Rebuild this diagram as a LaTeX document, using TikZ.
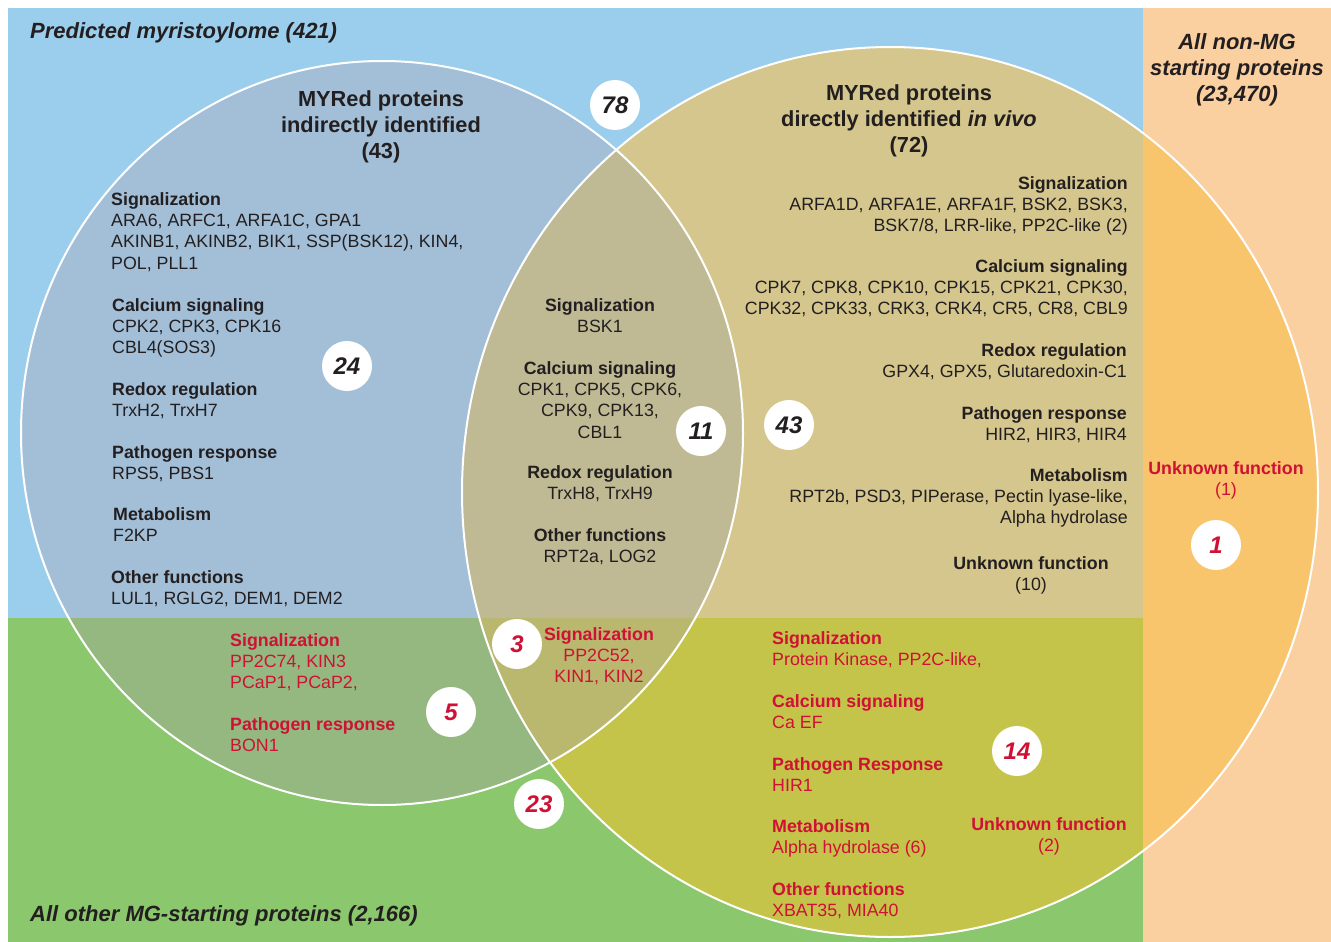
\documentclass[tikz,border=0pt]{standalone}
\usepackage{fontspec}
\setmainfont{Liberation Sans}
\usetikzlibrary{positioning}

\definecolor{predblue}{RGB}{155,206,236}
\definecolor{mggreen}{RGB}{139,199,108}
\definecolor{nonmg}{RGB}{251,208,160}
\definecolor{indblue}{RGB}{163,191,215}
\definecolor{indgreen}{RGB}{148,184,128}
\definecolor{dirkhaki}{RGB}{212,198,140}
\definecolor{dirolive}{RGB}{197,196,74}
\definecolor{dirorange}{RGB}{248,197,108}
\definecolor{bothgray}{RGB}{191,186,148}
\definecolor{bothgreen}{RGB}{186,183,110}
\definecolor{inkblack}{RGB}{35,31,32}
\definecolor{myred}{RGB}{206,17,52}

\newcommand{\grphead}[1]{\textbf{#1}}

\tikzset{
  body/.style={inner sep=0pt, text=inkblack, font=\fontsize{17.8}{21.3}\selectfont},
  grpl/.style={body, align=left, anchor=north west},
  grpc/.style={body, align=center, anchor=north},
  grpr/.style={body, align=right, anchor=north east},
  redgrp/.style={text=myred},
  settitle/.style={inner sep=0pt, align=center, anchor=north, text=inkblack,
    font=\fontsize{21.8}{26}\selectfont\bfseries},
  corner/.style={inner sep=0pt, text=inkblack,
    font=\fontsize{22}{26}\selectfont\bfseries\itshape},
  badge/.style={circle, fill=white, minimum size=50pt, inner sep=0pt, text=inkblack,
    font=\fontsize{24}{24}\selectfont\bfseries\itshape},
  setline/.style={draw=white, line width=2pt}
}

\begin{document}
\begin{tikzpicture}[x=1pt,y=-1pt]
  \useasboundingbox (0,0) rectangle (1331,942);
  % backgrounds
  \fill[white] (0,0) rectangle (1331,942);
  \fill[predblue] (8,8) rectangle (1143,618);
  \fill[mggreen] (8,618) rectangle (1143,942);
  \fill[nonmg] (1143,8) rectangle (1331,942);
  % indirectly identified set
  \begin{scope}
    \clip (382,433) ellipse [x radius=361pt, y radius=372pt];
    \fill[indblue] (8,8) rectangle (1143,618);
    \fill[indgreen] (8,618) rectangle (1143,942);
  \end{scope}
  % directly identified set, and the overlap
  \begin{scope}
    \clip (890,492) ellipse [x radius=428pt, y radius=445pt];
    \fill[dirkhaki] (8,8) rectangle (1143,618);
    \fill[dirolive] (8,618) rectangle (1143,942);
    \fill[dirorange] (1143,8) rectangle (1331,942);
    \clip (382,433) ellipse [x radius=361pt, y radius=372pt];
    \fill[bothgray] (8,8) rectangle (1143,618);
    \fill[bothgreen] (8,618) rectangle (1143,942);
  \end{scope}
  \draw[setline] (382,433) ellipse [x radius=361pt, y radius=372pt];
  \draw[setline] (890,492) ellipse [x radius=428pt, y radius=445pt];

  % corner labels
  \node[corner, anchor=base west] (pred) at (30,39) {Predicted myristoylome (421)};
  \node[corner, align=center, anchor=north] (nonmg) at (1237,33)
    {All non-MG\\starting proteins\\(23,470)};
  \node[corner, anchor=base west] (othermg) at (30,921) {All other MG-starting proteins (2,166)};

  % set titles
  \node[settitle] (indtitle) at (381,91) {MYRed proteins\\indirectly identified\\(43)};
  \node[settitle] (dirtitle) at (909,85) {MYRed proteins\\directly identified \textit{in vivo}\\(72)};

  % indirectly identified only
  \node[grpl] (ind-sig) at (111,192) {\grphead{Signalization}\\ARA6, ARFC1, ARFA1C, GPA1\\AKINB1, AKINB2, BIK1, SSP(BSK12), KIN4,\\POL, PLL1};
  \node[grpl] (ind-ca) at (112,298) {\grphead{Calcium signaling}\\CPK2, CPK3, CPK16\\CBL4(SOS3)};
  \node[grpl] (ind-redox) at (112,382) {\grphead{Redox regulation}\\TrxH2, TrxH7};
  \node[grpl] (ind-path) at (112,445) {\grphead{Pathogen response}\\RPS5, PBS1};
  \node[grpl] (ind-met) at (113,507) {\grphead{Metabolism}\\F2KP};
  \node[grpl] (ind-other) at (111,570) {\grphead{Other functions}\\LUL1, RGLG2, DEM1, DEM2};

  % both sets
  \node[grpc] (both-sig) at (600,298) {\grphead{Signalization}\\BSK1};
  \node[grpc] (both-ca) at (600,361) {\grphead{Calcium signaling}\\CPK1, CPK5, CPK6,\\CPK9, CPK13,\\CBL1};
  \node[grpc] (both-redox) at (600,465) {\grphead{Redox regulation}\\TrxH8, TrxH9};
  \node[grpc] (both-other) at (600,528) {\grphead{Other functions}\\RPT2a, LOG2};

  % directly identified only
  \node[grpr] (dir-sig) at (1128,176) {\grphead{Signalization}\\ARFA1D, ARFA1E, ARFA1F, BSK2, BSK3,\\BSK7/8, LRR-like, PP2C-like (2)};
  \node[grpr] (dir-ca) at (1128,259) {\grphead{Calcium signaling}\\CPK7, CPK8, CPK10, CPK15, CPK21, CPK30,\\CPK32, CPK33, CRK3, CRK4, CR5, CR8, CBL9};
  \node[grpr] (dir-redox) at (1127,343) {\grphead{Redox regulation}\\GPX4, GPX5, Glutaredoxin-C1};
  \node[grpr] (dir-path) at (1127,406) {\grphead{Pathogen response}\\HIR2, HIR3, HIR4};
  \node[grpr] (dir-met) at (1128,468) {\grphead{Metabolism}\\RPT2b, PSD3, PIPerase, Pectin lyase-like,\\Alpha hydrolase};
  \node[grpc] (dir-unk) at (1031,556) {\grphead{Unknown function}\\(10)};

  % non-MG
  \node[grpc, redgrp] (nonmg-unk) at (1226,461) {\grphead{Unknown function}\\(1)};

  % other MG-starting proteins
  \node[grpl, redgrp] (mgind-sig) at (230,633) {\grphead{Signalization}\\PP2C74, KIN3\\PCaP1, PCaP2,};
  \node[grpl, redgrp] (mgind-path) at (230,717) {\grphead{Pathogen response}\\BON1};
  \node[grpc, redgrp] (mgboth-sig) at (599,627) {\grphead{Signalization}\\PP2C52,\\KIN1, KIN2};
  \node[grpl, redgrp] (mgdir-sig) at (772,631) {\grphead{Signalization}\\Protein Kinase, PP2C-like,};
  \node[grpl, redgrp] (mgdir-ca) at (772,694) {\grphead{Calcium signaling}\\Ca EF};
  \node[grpl, redgrp] (mgdir-path) at (772,757) {\grphead{Pathogen Response}\\HIR1};
  \node[grpl, redgrp] (mgdir-met) at (772,819) {\grphead{Metabolism}\\Alpha hydrolase (6)};
  \node[grpl, redgrp] (mgdir-other) at (772,882) {\grphead{Other functions}\\XBAT35, MIA40};
  \node[grpc, redgrp] (mgdir-unk) at (1049,817) {\grphead{Unknown function}\\(2)};

  % counts
  \node[badge] (n78) at (615,105) {78};
  \node[badge] (n24) at (347,366) {24};
  \node[badge] (n11) at (701,431) {11};
  \node[badge] (n43) at (789,425) {43};
  \node[badge, text=myred] (n1) at (1216,545) {1};
  \node[badge, text=myred] (n3) at (517,644) {3};
  \node[badge, text=myred] (n5) at (451,712) {5};
  \node[badge, text=myred] (n23) at (539,804) {23};
  \node[badge, text=myred] (n14) at (1017,751) {14};
\end{tikzpicture}
\end{document}
